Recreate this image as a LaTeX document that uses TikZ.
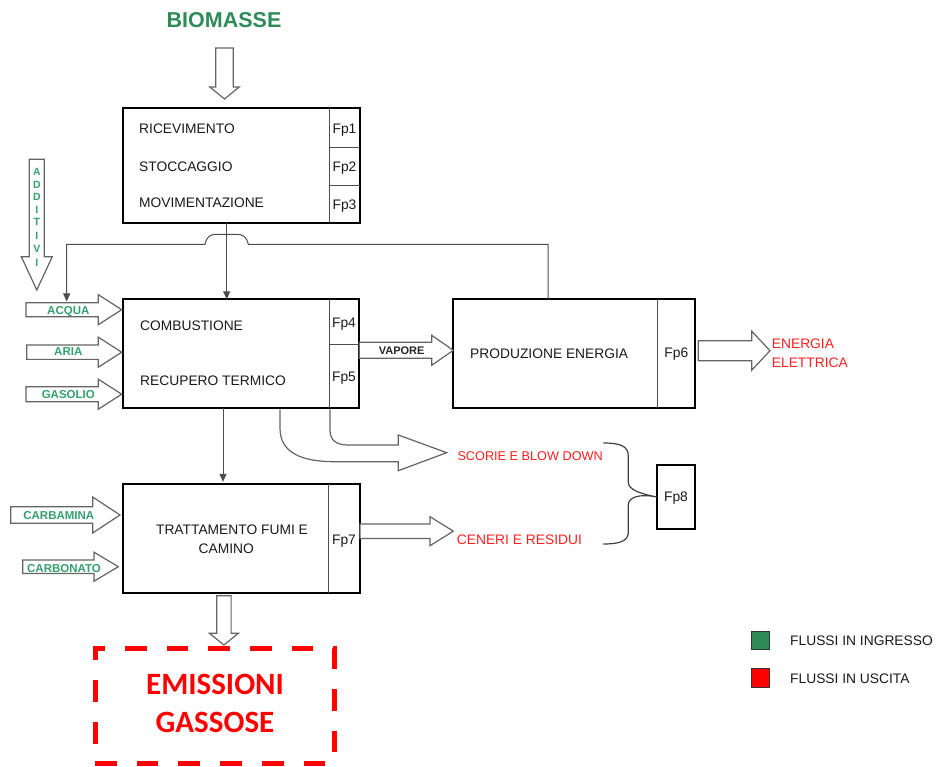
\documentclass[tikz,border=0pt]{standalone}
\usepackage{fontspec}
\setmainfont{Liberation Sans}
\newfontfamily\calfont{Carlito}
\usetikzlibrary{arrows.meta,calc}
\definecolor{ingreen}{RGB}{46,139,87}
\definecolor{lblgreen}{RGB}{52,160,110}
\definecolor{outred}{RGB}{255,30,30}
\definecolor{agray}{RGB}{100,100,100}
% horizontal block arrow: xstart, xhead, xtip, ycenter, shaft half, head half
\newcommand{\hblock}[6]{\draw[barrow] (#1,#4-#5) -- (#2,#4-#5) -- (#2,#4-#6) -- (#3,#4) -- (#2,#4+#6) -- (#2,#4+#5) -- (#1,#4+#5) -- cycle;}
% vertical block arrow: xcenter, ystart, yhead, ytip, shaft half, head half
\newcommand{\vblock}[6]{\draw[barrow] (#1-#5,#2) -- (#1-#5,#3) -- (#1-#6,#3) -- (#1,#4) -- (#1+#6,#3) -- (#1+#5,#3) -- (#1+#5,#2) -- cycle;}
\begin{document}
\begin{tikzpicture}[x=1pt,y=-1pt,
 box/.style={draw=black,line width=2pt,anchor=north west,inner sep=0pt,outer sep=0pt},
 div/.style={draw=black!70,line width=1pt},
 barrow/.style={draw=agray,line width=1.2pt,fill=white,line join=miter},
 conn/.style={draw=black!70,line width=1pt},
 tipa/.style={-{Triangle[length=8pt,width=7pt]}},
 txt/.style={font=\fontsize{13.8}{15}\selectfont,inner sep=0pt,text height=9.9pt,text depth=0pt,anchor=west,text=black!90},
 fp/.style={font=\fontsize{13.8}{15}\selectfont,inner sep=0pt,text height=9.9pt,text depth=0pt,text=black!90},
 inlbl/.style={font=\bfseries\fontsize{11.5}{13}\selectfont,text=lblgreen,inner sep=0pt,text height=8.2pt,text depth=0pt},
 addl/.style={font=\bfseries\fontsize{10.5}{11}\selectfont,text=lblgreen,inner sep=0pt,text height=7.5pt,text depth=0pt},
 outlbl/.style={font=\fontsize{13.8}{15}\selectfont,text=outred,inner sep=0pt,text height=9.9pt,text depth=0pt,anchor=west},
 emis/.style={font=\calfont\bfseries\fontsize{31}{33}\selectfont,text=red,inner sep=0pt,text height=19.6pt,text depth=0pt},
]
\useasboundingbox (0,0) rectangle (938,767);

% ---------- boxes ----------
\node[box,minimum width=237.3pt,minimum height=114.7pt] (b1) at (122.7,108.3) {};
\draw[div] (329,108.3) -- (329,223);
\draw[div] (329,147.7) -- (360,147.7);
\draw[div] (329,185.7) -- (360,185.7);

\node[box,minimum width=236.6pt,minimum height=109pt] (b2) at (122.7,299.3) {};
\draw[div] (329,299.3) -- (329,408.3);
\draw[div] (329,344.3) -- (359.3,344.3);

\node[box,minimum width=241.7pt,minimum height=109pt] (b3) at (453.3,299.3) {};
\draw[div] (657.7,299.3) -- (657.7,408.3);

\node[box,minimum width=237.3pt,minimum height=109pt] (b4) at (122.7,484.3) {};
\draw[div] (328.3,484.3) -- (328.3,593.3);

\node[box,minimum width=38.3pt,minimum height=64pt] (fp8) at (656.7,465) {};

\node[box,draw=red,line width=5pt,dash pattern=on 21.7pt off 20pt,minimum width=239.3pt,minimum height=115pt] (em) at (95,648.3) {};

% ---------- texts in boxes ----------
\node[txt] (t1) at (139,129) {RICEVIMENTO};
\node[txt] (t2) at (139,166.7) {STOCCAGGIO};
\node[txt] (t3) at (139,203) {MOVIMENTAZIONE};
\node[fp] (f1) at (344.5,128.5) {Fp1};
\node[fp] (f2) at (344.5,166.5) {Fp2};
\node[fp] (f3) at (344.5,204.5) {Fp3};

\node[txt] (t4) at (140,325.7) {COMBUSTIONE};
\node[txt] (t5) at (140,380.7) {RECUPERO TERMICO};
\node[fp] (f4) at (344,323) {Fp4};
\node[fp] (f5) at (344,376.7) {Fp5};

\node[txt] (t6) at (470,353.3) {PRODUZIONE ENERGIA};
\node[fp] (f6) at (676.3,353) {Fp6};

\node[fp] (t7a) at (232,530) {TRATTAMENTO FUMI E};
\node[fp] (t7b) at (226.3,548.3) {CAMINO};
\node[fp] (f7) at (344,539.3) {Fp7};

\node[fp] (f8t) at (676,496.7) {Fp8};

\node[emis] (e1) at (215,684.3) {EMISSIONI};
\node[emis] (e2) at (215,722.3) {GASSOSE};

% ---------- block arrows ----------
\vblock{224.5}{48}{87}{99}{8.8}{14.7}
\vblock{36.8}{159.3}{256.7}{290}{7.5}{15.5}
\vblock{223.9}{595.7}{633.3}{645}{7.2}{14.5}

\hblock{26}{98.3}{121.7}{309.7}{7}{15}
\hblock{26.7}{98.3}{121.7}{352.2}{7.2}{15}
\hblock{26}{98.3}{121.7}{394.2}{7.5}{15}
\hblock{10.7}{92.7}{120}{515}{8.3}{18}
\hblock{22.7}{94}{118.3}{566.7}{6.7}{14.5}
\hblock{359.3}{431.7}{453.3}{350.3}{8}{15}
\hblock{698.3}{751.7}{770}{350.7}{10}{19.5}
\hblock{360}{430}{453.3}{531.2}{7.2}{14.5}

% curved scorie arrow
\draw[barrow] (280,409.5) -- (280,428) .. controls (280,452) and (300,461.7) .. (335,461.7)
  -- (398.3,461.7) -- (398.3,470.7) -- (446.7,452.7) -- (398.3,435) -- (398.3,445)
  -- (348,445) .. controls (336,445) and (330,440) .. (330,430) -- (330,409.5);

% ---------- labels ----------
\node[font=\bfseries\fontsize{21.5}{23}\selectfont,text=ingreen,inner sep=0pt] (bio) at (224,20) {BIOMASSE};

\foreach \l/\yy in {A/171.7,D/184.3,D/196.7,I/210,T/221.7,I/236,V/248.3,I/262.7}
  \node[addl] at (36.8,\yy) {\l};

\node[inlbl] (acq) at (68.3,310.7) {ACQUA};
\node[inlbl] (ari) at (68.3,351.5) {ARIA};
\node[inlbl] (gas) at (68.3,394.5) {GASOLIO};
\node[inlbl] (cba) at (58.8,515) {CARBAMINA};
\node[inlbl] (cbo) at (64,568) {CARBONATO};

\node[font=\bfseries\fontsize{11}{12}\selectfont,text=black!85,inner sep=0pt,text height=7.9pt,text depth=0pt] (vap) at (401.7,351) {VAPORE};

\node[outlbl] (en1) at (771.7,344) {ENERGIA};
\node[outlbl] (en2) at (771.7,362.7) {ELETTRICA};
\node[outlbl,font=\fontsize{12.7}{14}\selectfont] (sco) at (457.3,456) {SCORIE E BLOW DOWN};
\node[outlbl] (cen) at (456.7,539.3) {CENERI E RESIDUI};

% ---------- connectors ----------
\coordinate (xa) at (226.7,0);
\coordinate (xb) at (223,0);
\coordinate (xr) at (548,0);
\coordinate (xl) at (66.7,0);
\coordinate (acqtop) at (66.7,301.5);
\draw[conn,tipa] (b1.south -| xa) -- (b2.north -| xa);
\draw[conn,tipa,shorten >=2.5pt] (b2.south -| xb) -- (b4.north -| xb);
\draw[conn,tipa] (b3.north -| xr) -- (548,244.3) -- (248.3,244.3)
  .. controls (246.5,236.5) and (243,234.3) .. (236,234.3) -- (217,234.3)
  .. controls (210,234.3) and (206.8,236.5) .. (205,244.3) -- (66.7,244.3) -- (acqtop);

% brace
\draw[draw=black!75,line width=1.2pt] (603.3,443) .. controls (620,443) and (628.3,446) .. (628.3,456)
  -- (628.3,482) .. controls (628.3,490) and (640,493.5) .. (fp8.west)
  (fp8.west) .. controls (640,493.5) and (628.3,497) .. (628.3,505)
  -- (628.3,532) .. controls (628.3,541) and (620,544) .. (603.3,544);

% ---------- legend ----------
\node[draw=black!80,line width=1pt,fill=ingreen,anchor=north west,minimum width=18.6pt,minimum height=18.6pt,inner sep=0pt] (lg) at (750.7,630.7) {};
\node[draw=black!80,line width=1pt,fill=red,anchor=north west,minimum width=18.6pt,minimum height=18.4pt,inner sep=0pt] (lr) at (750.7,668.3) {};
\node[txt] (lgt) at (790,640.7) {FLUSSI IN INGRESSO};
\node[txt] (lrt) at (790,678.3) {FLUSSI IN USCITA};
\end{tikzpicture}
\end{document}
